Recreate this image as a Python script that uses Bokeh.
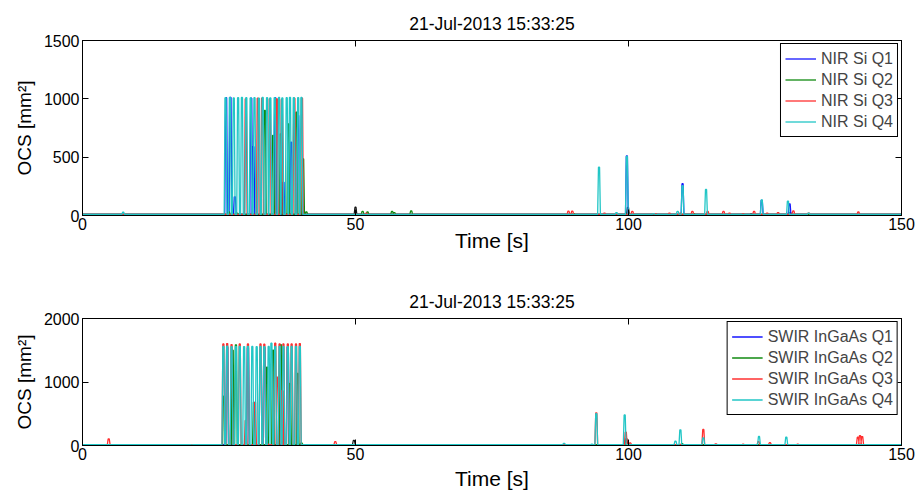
from bokeh.plotting import figure
from bokeh.models import (Range1d, FixedTicker, LinearAxis, Legend, LegendItem)
from bokeh.layouts import column
from bokeh.embed import file_html
from bokeh.resources import INLINE

# ---------------- data ----------------
TITLE = "21-Jul-2013 15:33:25"
x_ticks = [0, 50, 100, 150]
top_y_ticks = [0, 500, 1000, 1500]
bot_y_ticks = [0, 1000, 2000]

nir_labels = ["NIR Si Q1", "NIR Si Q2", "NIR Si Q3", "NIR Si Q4"]
swir_labels = ["SWIR InGaAs Q1", "SWIR InGaAs Q2", "SWIR InGaAs Q3", "SWIR InGaAs Q4"]
colors = ["#1515ff", "#108a10", "#ff3030", "#22c6c6"]
extra_color = "#111111"

# NIR Si (top) spike times [s] and peak values [mm^2]
nir_q1_t = [26.3, 27.1, 27.9, 30.9, 31.3, 35.3, 36.8, 38.2, 39.5, 40.5, 99.7, 109.9, 124.4, 129.5]
nir_q1_v = [1010, 1012, 160, 1005, 590, 1010, 285, 628, 857, 40, 510, 272, 130, 100]

nir_q2_t = [26.8, 28.3, 33.4, 34.9, 36.3, 37.7, 39.2, 40.4, 41.0, 51.3, 52.2, 56.7, 57.1, 60.2, 90.0, 112.0]
nir_q2_v = [30, 20, 900, 686, 700, 786, 885, 486, 30, 35, 30, 35, 25, 40, 15, 15]

nir_q3_t = [29.9, 32.1, 32.9, 34.3, 35.6, 36.5, 38.8, 40.2, 52.0, 89.0, 89.7, 95.6, 100.7, 105.0,
            107.5, 109.5, 111.7, 114.5, 117.4, 118.5, 121.0, 123.0, 125.4, 127.4, 130.2, 133.0, 142.1]
nir_q3_v = [1000, 1005, 1005, 1000, 1000, 995, 1005, 1005, 20, 37, 37, 20, 35, 15,
            20, 20, 35, 35, 35, 20, 15, 35, 20, 25, 40, 20, 30]

nir_q4_t = [7.45, 26.2, 27.0, 27.7, 28.5, 29.2, 30.0, 30.8, 31.5, 32.3, 33.0, 33.8, 34.4, 35.2,
            36.0, 36.6, 37.4, 38.0, 38.7, 39.5, 40.1, 94.6, 97.8, 99.7, 104.6, 109.0, 109.9,
            114.2, 124.4, 129.2, 133.0]
nir_q4_v = [28, 1010, 1012, 1008, 1010, 1012, 1010, 1008, 1010, 1006, 1012, 1010, 1008, 1010,
            1012, 1008, 1010, 1012, 1010, 1010, 1012, 414, 25, 506, 15, 35, 255,
            223, 134, 123, 20]

nir_extra_t = [50.0, 99.9, 122.5, 129.6]
nir_extra_v = [71, 70, 15, 25]

# SWIR InGaAs (bottom)
swir_q1_t = [26.5, 30.3, 33.3, 37.6, 60.0]
swir_q1_v = [1550, 1540, 1545, 1550, 10]

swir_q2_t = [25.9, 27.5, 28.1, 31.4, 33.8, 34.9, 36.3, 38.0, 39.4, 40.1, 55.0, 109.8]
swir_q2_v = [776, 1500, 1585, 680, 1233, 1500, 1590, 976, 1134, 40, 15, 30]

swir_q3_t = [4.8, 25.8, 26.5, 27.3, 28.8, 29.9, 30.3, 31.6, 32.6, 33.3, 34.0, 35.3, 35.7, 36.1,
             36.6, 36.8, 37.6, 38.3, 39.1, 39.8, 46.3, 94.1, 99.5, 100.3, 113.7, 116.0, 121.0,
             123.8, 125.9, 131.0, 142.0, 142.4, 142.8]
swir_q3_v = [105, 1600, 1605, 1590, 1600, 394, 1600, 680, 1600, 1595, 20, 1610, 1076, 1600,
             866, 1600, 1600, 1600, 1600, 1605, 60, 515, 210, 40, 252, 25, 20,
             60, 45, 20, 130, 157, 140]

swir_q4_t = [20.0, 25.8, 26.5, 27.3, 28.1, 28.8, 29.6, 30.3, 31.1, 31.9, 32.6, 33.3, 34.1, 34.6,
             35.3, 36.1, 36.8, 37.6, 38.3, 39.1, 39.8, 88.2, 93.3, 94.1, 99.3, 108.6, 109.5,
             113.7, 123.9, 128.9]
swir_q4_v = [10, 1560, 1565, 1555, 1560, 1560, 1558, 1562, 1560, 1555, 1560, 1558, 1560, 1610,
             1560, 1562, 1560, 1558, 1560, 1562, 1560, 35, 20, 500, 480, 70, 247,
             120, 142, 131]

swir_extra_t = [49.7, 99.6]
swir_extra_v = [80, 110]

nir_base = 9     # near-zero baseline level of the NIR channels
swir_base = 14   # near-zero baseline level of the SWIR channels


def spike_path(ts, vs, base, half_base=0.25, half_top=0.1):
    xs, ys = [0.0], [base]
    for t, v in sorted(zip(ts, vs)):
        xs += [t - half_base, t - half_top, t + half_top, t + half_base]
        ys += [base, v, v, base]
    xs.append(150.0)
    ys.append(base)
    return xs, ys


FONT = "Liberation Sans"


def make_fig(height, top, bottom, y_end, y_ticks, series, extra, labels, xlabel_standoff, base):
    p = figure(width=919, height=height, output_backend="svg", toolbar_location=None,
               x_range=Range1d(0, 150), y_range=Range1d(0, y_end),
               min_border_left=82, min_border_right=18, min_border_top=top,
               min_border_bottom=bottom, title=TITLE)
    p.title.align = "center"
    p.title.text_font = FONT
    p.title.text_font_size = "17.5px"
    p.title.text_font_style = "normal"
    p.title.text_color = "#000000"
    p.title.standoff = 14
    p.xgrid.visible = False
    p.ygrid.visible = False
    p.outline_line_color = "black"
    p.outline_line_alpha = 1
    p.background_fill_color = "white"
    p.border_fill_color = "white"

    for ax, ticks in ((p.xaxis[0], x_ticks), (p.yaxis[0], y_ticks)):
        ax.ticker = FixedTicker(ticks=ticks)
        ax.major_tick_in = 6
        ax.major_tick_out = 0
        ax.minor_tick_line_color = None
        ax.axis_line_color = "black"
        ax.major_tick_line_color = "black"
        ax.major_label_text_font = FONT
        ax.major_label_text_font_size = "16px"
        ax.major_label_text_color = "black"
        ax.axis_label_text_font = FONT
        ax.axis_label_text_font_style = "normal"
        ax.axis_label_text_color = "black"
    p.xaxis[0].axis_label = "Time [s]"
    p.xaxis[0].axis_label_text_font_size = "21px"
    p.xaxis[0].major_label_standoff = 2
    p.xaxis[0].axis_label_standoff = xlabel_standoff
    p.yaxis[0].axis_label = "OCS [mm\u00b2]"
    p.yaxis[0].axis_label_text_font_size = "19px"
    p.yaxis[0].major_label_standoff = 3
    p.yaxis[0].axis_label_standoff = 6

    # mirrored ticks on top and right (MATLAB box)
    for loc, ticks in (("above", x_ticks), ("right", y_ticks)):
        ax = LinearAxis(ticker=FixedTicker(ticks=ticks),
                        major_label_overrides={t: "" for t in ticks},
                        major_tick_in=6, major_tick_out=0,
                        minor_tick_line_color=None, axis_line_color="black",
                        major_label_standoff=0)
        p.add_layout(ax, loc)

    xs, ys = spike_path(*extra, base)
    p.line(xs, ys, line_color=extra_color, line_width=1.2)
    items = []
    for (ts, vs), c, lab in zip(series, colors, labels):
        xs, ys = spike_path(ts, vs, base)
        r = p.line(xs, ys, line_color=c, line_width=1.3)
        items.append(LegendItem(label=lab, renderers=[r]))

    leg = Legend(items=items, location="top_right")
    leg.border_line_color = "black"
    leg.border_line_width = 1
    leg.border_line_alpha = 1
    leg.background_fill_alpha = 1
    leg.label_text_font = FONT
    leg.label_text_font_size = "16px"
    leg.label_height = 21
    leg.glyph_height = 21
    leg.glyph_width = 31
    leg.label_standoff = 5
    leg.spacing = 0
    leg.padding = 4
    leg.margin = 3
    p.add_layout(leg)
    return p


top = make_fig(255, 40, 40, 1500, top_y_ticks,
               [(nir_q1_t, nir_q1_v), (nir_q2_t, nir_q2_v), (nir_q3_t, nir_q3_v), (nir_q4_t, nir_q4_v)],
               (nir_extra_t, nir_extra_v), nir_labels, -4, nir_base)
bot = make_fig(239, 63, 49, 2000, bot_y_ticks,
               [(swir_q1_t, swir_q1_v), (swir_q2_t, swir_q2_v), (swir_q3_t, swir_q3_v), (swir_q4_t, swir_q4_v)],
               (swir_extra_t, swir_extra_v), swir_labels, 4, swir_base)

layout = column(top, bot, spacing=0)
open("out.html", "w").write(file_html(layout, INLINE))
